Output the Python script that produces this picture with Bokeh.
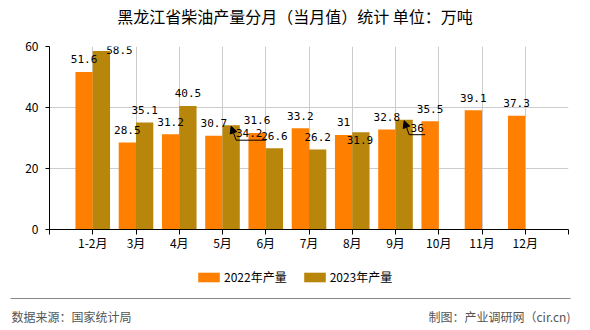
from bokeh.plotting import figure
from bokeh.layouts import column
from bokeh.models import (Range1d, FixedTicker, ColumnDataSource, LabelSet,
                          Legend, LegendItem, Arrow, NormalHead)
from bokeh.core.properties import value
from bokeh.embed import file_html
from bokeh.resources import INLINE

# ---- data ----
months = ["1-2月", "3月", "4月", "5月", "6月", "7月", "8月", "9月", "10月", "11月", "12月"]
prod_2022 = [51.6, 28.5, 31.2, 30.7, 31.6, 33.2, 31, 32.8, 35.5, 39.1, 37.3]
prod_2023 = [58.5, 35.1, 40.5, 34.2, 26.6, 26.2, 31.9, 36]
series_names = ["2022年产量", "2023年产量"]
title_text = "黑龙江省柴油产量分月（当月值）统计 单位：万吨"
source_text = "数据来源：国家统计局"
maker_text = "制图：产业调研网（cir.cn)"

# ---- style ----
C2022 = "#FF8000"
C2023 = "#B8860B"
CJK = "Noto Sans CJK SC"
MONO = "DejaVu Sans Mono"
W = 590
HEAD_H, MAIN_H, FOOT_H = 30, 232, 68
L, R, T, B = 49, 22, 16, 33
frame_w = W - L - R
frame_h = MAIN_H - T - B
YMAX = 60
px_x = frame_w / 12.0
px_y = frame_h / YMAX


def blank_fig(h, y0, y1):
    f = figure(width=W, height=h, output_backend="svg", toolbar_location=None, tools="",
               x_range=Range1d(0, W), y_range=Range1d(y1, y0), frame_align=False,
               min_border_left=0, min_border_right=0, min_border_top=0, min_border_bottom=0)
    f.axis.visible = False
    f.grid.visible = False
    f.outline_line_color = None
    f.background_fill_color = "white"
    f.border_fill_color = "white"
    return f


# ---- header (title) ----
head = blank_fig(HEAD_H, 0, HEAD_H)
head.text(x=[294.5], y=[15.7], text=[title_text], text_align="center", text_baseline="middle",
          text_font=value(CJK), text_font_size="16px", text_color="#000000")

# ---- main chart ----
idx = list(range(1, len(months) + 1))
x22 = [i - 0.2 for i in idx]
x23 = [i + 0.2 for i in idx[:len(prod_2023)]]

p = figure(width=W, height=MAIN_H, output_backend="svg", toolbar_location=None, tools="",
           x_range=Range1d(0, 12), y_range=Range1d(0, YMAX), frame_align=False,
           min_border_left=L, min_border_right=R, min_border_top=T, min_border_bottom=B)
p.outline_line_color = None
p.background_fill_color = "white"
p.border_fill_color = "white"

src22 = ColumnDataSource(dict(x=x22, y=prod_2022, t=[f"{v:g}" for v in prod_2022],
                              dx=[0] * len(prod_2022), dy=[12.7] * len(prod_2022)))
# label nudges for the 2023 series (overlap avoidance in the original)
dx23 = [18, 0, 0, 18, 0, 0, -1, 13]
dy23 = [0.6, 12.7, 12.7, -7.5, 12.7, 12.7, -8.2, -8]
src23 = ColumnDataSource(dict(x=x23, y=prod_2023, t=[f"{v:g}" for v in prod_2023],
                              dx=dx23, dy=dy23))

r1 = p.vbar(x="x", top="y", width=0.4, source=src22, fill_color=C2022, line_color=None)
r2 = p.vbar(x="x", top="y", width=0.4, source=src23, fill_color=C2023, line_color=None)

for s in (src22, src23):
    p.add_layout(LabelSet(x="x", y="y", text="t", source=s, x_offset="dx", y_offset="dy",
                          text_align="center", text_baseline="middle",
                          text_font=value(MONO), text_font_size="11px", text_color="#000000"))

# leader lines for displaced labels
for k, w in ((3, 30), (7, 16)):
    bx, by = x23[k], prod_2023[k]
    ex = bx + 5 / px_x
    ey = by - 15 / px_y
    p.add_layout(Arrow(end=NormalHead(size=7, fill_color="black", line_color="black"),
                       x_start=ex, y_start=ey, x_end=bx, y_end=by - 1 / px_y,
                       line_color="black", line_width=1))
    p.segment(x0=[ex], y0=[ey], x1=[ex + w / px_x], y1=[ey], line_color="black", line_width=1)

p.xaxis.ticker = FixedTicker(ticks=list(range(0, 13)))
ov = {0: "", 12: ""}
for i, m in zip(idx, months):
    ov[i] = m
p.xaxis.major_label_overrides = ov
p.xaxis.major_tick_in = 0
p.xaxis.major_tick_out = 5
p.xaxis.minor_tick_line_color = None
p.xaxis.axis_line_color = "black"
p.xaxis.major_tick_line_color = "black"
p.xaxis.major_label_text_font = CJK
p.xaxis.major_label_text_font_size = "12px"
p.xaxis.major_label_text_color = "black"
p.xaxis.major_label_standoff = -1

p.yaxis.ticker = FixedTicker(ticks=[0, 20, 40, 60])
p.yaxis.major_tick_in = 0
p.yaxis.major_tick_out = 4
p.yaxis.minor_tick_line_color = None
p.yaxis.axis_line_color = "black"
p.yaxis.major_tick_line_color = "black"
p.yaxis.major_label_text_font = CJK
p.yaxis.major_label_text_font_size = "12px"
p.yaxis.major_label_text_color = "black"
p.yaxis.major_label_standoff = 7

p.xgrid.ticker = FixedTicker(ticks=list(range(1, 13)))
p.xgrid.grid_line_color = "#cccccc"
p.ygrid.ticker = FixedTicker(ticks=[20, 40, 60])
p.ygrid.grid_line_color = "#cccccc"

# ---- footer (legend + source line) ----
y_top = HEAD_H + MAIN_H
foot = blank_fig(FOOT_H, y_top, y_top + FOOT_H)
# legend swatch renderers: zero-height bars outside this strip's range, only the legend shows
lg1 = foot.vbar(x="x", top="y", bottom="y", width=0, source=src22, fill_color=C2022, line_color=None)
lg2 = foot.vbar(x="x", top="y", bottom="y", width=0, source=src23, fill_color=C2023, line_color=None)
legend = Legend(items=[LegendItem(label=series_names[0], renderers=[lg1]),
                       LegendItem(label=series_names[1], renderers=[lg2])],
                orientation="horizontal", location=(195, 330 - 285),
                glyph_width=27, glyph_height=12, label_standoff=2, spacing=14,
                padding=0, margin=0, border_line_color=None, background_fill_alpha=0,
                label_text_font=CJK, label_text_font_size="12px", label_text_color="#000000",
                label_height=12)
foot.add_layout(legend)
foot.segment(x0=[10], y0=[298], x1=[570], y1=[298], line_color="#888888", line_width=1)
foot.text(x=[11], y=[315.7], text=[source_text], text_align="left", text_baseline="middle",
          text_font=value(CJK), text_font_size="12px", text_color="#555555")
foot.text(x=[570], y=[315.7], text=[maker_text], text_align="right", text_baseline="middle",
          text_font=value(CJK), text_font_size="12px", text_color="#555555")

layout = column(head, p, foot, spacing=0)
open("out.html", "w").write(file_html(layout, INLINE))
